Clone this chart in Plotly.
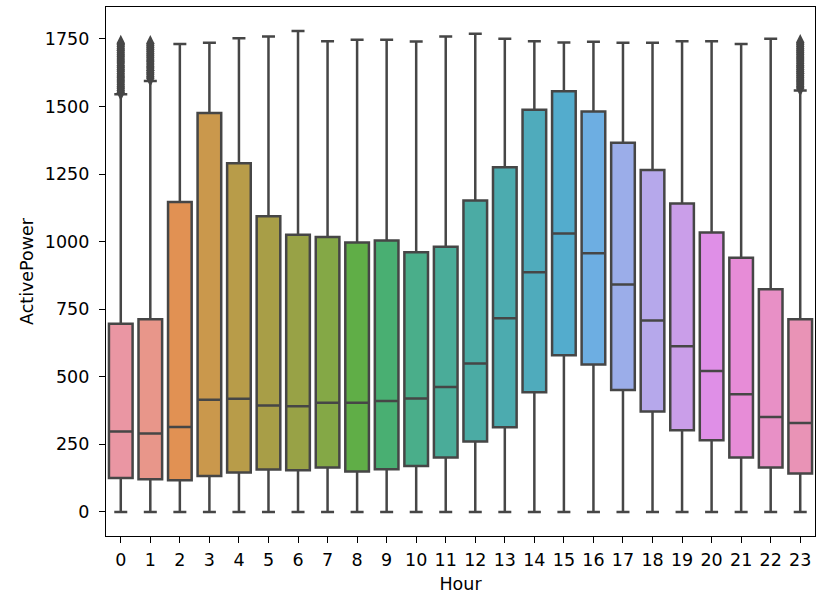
import math
import colorsys
import plotly.graph_objects as go

# ---------------- data ----------------
hours = list(range(24))
lower_whisker = [0] * 24
q1 = [126, 121, 117, 133, 146, 157, 154, 164, 150, 158, 170, 201,
      261, 313, 443, 580, 545, 451, 372, 302, 265, 201, 164, 142]
median = [298, 290, 314, 415, 419, 394, 391, 404, 404, 410, 420, 462,
          549, 717, 887, 1030, 957, 841, 708, 613, 521, 435, 351, 329]
q3 = [696, 713, 1147, 1476, 1290, 1094, 1025, 1017, 997, 1004, 961, 981,
      1152, 1275, 1488, 1556, 1481, 1366, 1265, 1141, 1034, 940, 824, 713]
upper_whisker = [1545, 1594, 1731, 1736, 1752, 1759, 1779, 1741, 1747, 1747, 1740, 1759,
                 1769, 1751, 1741, 1737, 1739, 1736, 1736, 1741, 1741, 1731, 1751, 1559]

outliers_h0 = [1552, 1559, 1567, 1574, 1582, 1591, 1598, 1606, 1613, 1621, 1630, 1637,
               1645, 1652, 1661, 1668, 1676, 1684, 1691, 1699, 1707, 1714, 1722, 1729, 1734]
outliers_h1 = [1604, 1611, 1619, 1626, 1634, 1642, 1649, 1657, 1665, 1672, 1680, 1688,
               1695, 1703, 1711, 1718, 1726, 1733]
outliers_h23 = [1568, 1575, 1583, 1591, 1598, 1606, 1614, 1622, 1629, 1637, 1645, 1652,
                1660, 1668, 1676, 1683, 1691, 1699, 1706, 1714, 1722, 1730, 1737]

y_ticks = [0, 250, 500, 750, 1000, 1250, 1500, 1750]
x_label = "Hour"
y_label = "ActivePower"

# ---------------- colours: seaborn husl palette (l=.7), desaturated .75 ----------------
_M = [[3.2406, -1.5372, -0.4986],
      [-0.9689, 1.8758, 0.0415],
      [0.0557, -0.2040, 1.0570]]
_refU, _refV = 0.19784, 0.46834


def _max_chroma(L, H):
    hrad = math.radians(H)
    sinH, cosH = math.sin(hrad), math.cos(hrad)
    sub1 = (L + 16) ** 3 / 1560896.0
    sub2 = sub1 if sub1 > 0.008856 else L / 903.3
    result = float("inf")
    for m1, m2, m3 in _M:
        top = (0.99915 * m1 + 1.05122 * m2 + 1.14460 * m3) * sub2
        rbottom = 0.86330 * m3 - 0.17266 * m2
        lbottom = 0.12949 * m3 - 0.38848 * m1
        bottom = (rbottom * sinH + lbottom * cosH) * sub2
        for t in (0.0, 1.0):
            C = L * (top - 1.05122 * t) / (bottom + 0.17266 * sinH * t)
            if 0.0 < C < result:
                result = C
    return result


def _f_inv(t):
    return t ** 3 if t ** 3 > 0.008856 else (116.0 * t - 16.0) / 903.3


def _from_linear(c):
    return 12.92 * c if c <= 0.0031308 else 1.055 * c ** (1 / 2.4) - 0.055


def husl_to_rgb(h, s, l):
    C = _max_chroma(l, h) / 100.0 * s
    hr = math.radians(h)
    U, V = math.cos(hr) * C, math.sin(hr) * C
    varY = _f_inv((l + 16.0) / 116.0)
    varU = U / (13.0 * l) + _refU
    varV = V / (13.0 * l) + _refV
    Y = varY
    X = -(9.0 * Y * varU) / ((varU - 4.0) * varV - varU * varV)
    Z = (9.0 * Y - 15.0 * varV * Y - varV * X) / (3.0 * varV)
    rgb = [_from_linear(r[0] * X + r[1] * Y + r[2] * Z) for r in _M]
    return [min(1, max(0, c)) for c in rgb]


def seaborn_colors(n):
    cols = []
    for i in range(n):
        h = ((i / n + 0.01) % 1) * 359
        r, g, b = husl_to_rgb(h, 0.9 * 99, 0.7 * 99)
        hh, ll, ss = colorsys.rgb_to_hls(r, g, b)
        cols.append(colorsys.hls_to_rgb(hh, ll, ss * 0.75))
    return cols


rgb_cols = seaborn_colors(len(hours))
to_hex = lambda c: "#%02x%02x%02x" % tuple(int(round(v * 255)) for v in c)
fill_hex = [to_hex(c) for c in rgb_cols]
lum = min(colorsys.rgb_to_hls(*c)[1] for c in rgb_cols) * 0.6
gray = to_hex((lum, lum, lum))

# ---------------- figure ----------------
fig = go.Figure()
for i, h in enumerate(hours):
    fig.add_trace(go.Box(
        x=[h], q1=[q1[i]], median=[median[i]], q3=[q3[i]],
        lowerfence=[lower_whisker[i]], upperfence=[upper_whisker[i]],
        fillcolor=fill_hex[i], line=dict(color=gray, width=2.5),
        width=0.8, whiskerwidth=0.55, boxpoints=False,
        showlegend=False, hoverinfo="skip",
    ))

for h, vals in [(0, outliers_h0), (1, outliers_h1), (23, outliers_h23)]:
    fig.add_trace(go.Scatter(
        x=[h] * len(vals), y=vals, mode="markers",
        marker=dict(symbol="diamond-tall", size=12, color=gray,
                    line=dict(width=0)),
        showlegend=False, hoverinfo="skip",
    ))

axis_font = dict(family="DejaVu Sans", size=17.5, color="black")
fig.update_layout(
    width=817, height=600,
    margin=dict(l=106, r=2, t=7, b=64),
    paper_bgcolor="white", plot_bgcolor="white",
    boxmode="overlay",
    font=axis_font,
)
fig.update_xaxes(
    range=[-0.5, 23.5], tickmode="array", tickvals=hours,
    ticktext=[str(h) for h in hours],
    showgrid=False, zeroline=False,
    showline=True, mirror=True, linecolor="black", linewidth=1.4,
    ticks="outside", ticklen=6, tickwidth=1.4, tickcolor="black",
    tickfont=axis_font, ticklabelstandoff=2,
    title=dict(text=x_label, font=axis_font, standoff=8),
)
fig.update_yaxes(
    range=[-89, 1868], tickmode="array", tickvals=y_ticks,
    ticktext=[str(v) for v in y_ticks],
    showgrid=False, zeroline=False,
    showline=True, mirror=True, linecolor="black", linewidth=1.4,
    ticks="outside", ticklen=6, tickwidth=1.4, tickcolor="black",
    tickfont=axis_font, ticklabelstandoff=6,
    title=dict(text=y_label, font=axis_font, standoff=6),
)

fig.write_html(
    "out.html",
    config={"displayModeBar": False},
    post_script="document.body.style.margin='0';document.body.style.overflow='hidden';",
)
